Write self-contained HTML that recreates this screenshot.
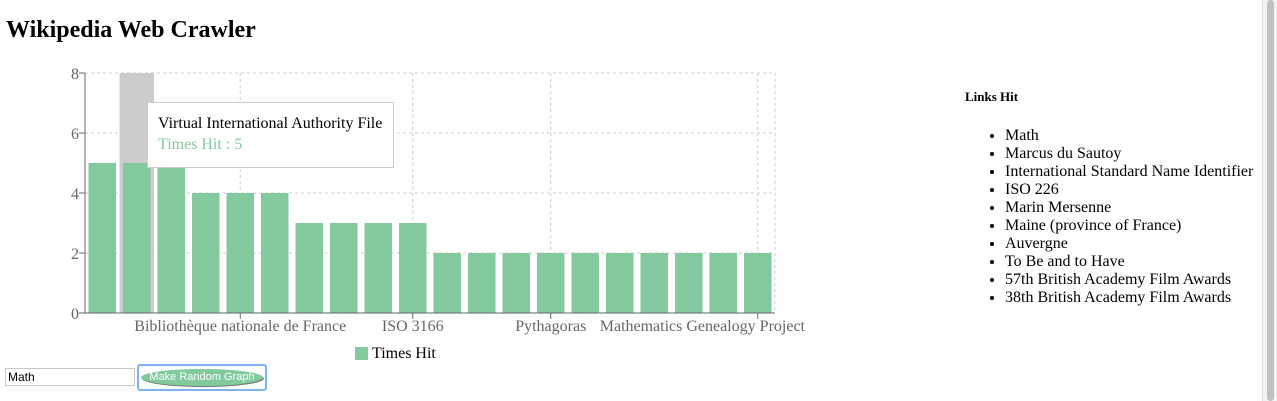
<!DOCTYPE html>
<html><head><meta charset="utf-8"><style>
body{margin:0;width:1277px;height:401px;overflow:hidden;background:#fff;font-family:"Liberation Serif",serif;position:relative}
h1{position:absolute;left:6px;top:17px;margin:0;font-size:24px;font-weight:bold}
#links{position:absolute;left:965px;top:89px}
#links h4{margin:0;font-size:13px}
#links ul{margin:22px 0 0 0;padding-left:40px;font-size:16px;line-height:18px}
#scroll{position:absolute;left:1262px;top:0;width:15px;height:401px;background:#f1f1f1;border-left:1px solid #e5e5e5}
#thumb{position:absolute;left:4px;top:0;width:7px;height:401px;background:#c1c1c1;border-radius:4px}
input{position:absolute;left:5px;top:368px;width:124px;height:14px;border:1px solid #c8c8c8;font:12px "Liberation Sans",sans-serif;padding:1px 2px}
#btnwrap{position:absolute;left:137px;top:364px;width:126px;height:23px;border:2px solid #7fb2f5;border-radius:3px}
#btn{position:absolute;left:2px;top:3px;width:122px;height:17px;border-radius:50%;background:#82c99c;box-shadow:1px 1px 0 #777;color:#fff;font:11px "Liberation Sans",sans-serif;text-align:center;line-height:17px;border:none;padding:0;white-space:nowrap}
</style></head><body>
<h1>Wikipedia Web Crawler</h1>
<svg id="chart" width="900" height="365" style="position:absolute;left:0;top:0"></svg>
<div id="links"><h4>Links Hit</h4>
<ul>
<li>Math</li>
<li>Marcus du Sautoy</li>
<li>International Standard Name Identifier</li>
<li>ISO 226</li>
<li>Marin Mersenne</li>
<li>Maine (province of France)</li>
<li>Auvergne</li>
<li>To Be and to Have</li>
<li>57th British Academy Film Awards</li>
<li>38th British Academy Film Awards</li>
</ul></div>
<input value="Math">
<div id="btnwrap"><button id="btn">Make Random Graph</button></div>
<div id="scroll"><div id="thumb"></div></div>
<script>
const categories=["Math","Virtual International Authority File","Marcus du Sautoy","Integrated Authority File","Bibliothèque nationale de France","Library of Congress Control Number","International Standard Name Identifier","ISO 226","Marin Mersenne","ISO 3166","Maine (province of France)","Auvergne","To Be and to Have","Pythagoras","57th British Academy Film Awards","38th British Academy Film Awards","Euclid","Number theory","Prime number","Mathematics Genealogy Project"];
const values=[5,5,5,4,4,4,3,3,3,3,2,2,2,2,2,2,2,2,2,2];
const yTicks=[0,2,4,6,8];
const shownTicks=[4,9,13,19];
const hovered=1;
const NS="http://www.w3.org/2000/svg",svg=document.getElementById('chart');
const L=85,R=775,T=73,B=313,yMax=8;
const step=(R-L)/categories.length;
const x=i=>L+step*i, y=v=>B-(B-T)*v/yMax;
function mk(t,a,p){const e=document.createElementNS(NS,t);for(const k in a)e.setAttribute(k,a[k]);(p||svg).appendChild(e);return e;}
yTicks.forEach(v=>{const g=mk('line',{x1:L,x2:R,y1:y(v),y2:y(v),stroke:'#ccc','stroke-dasharray':'3 3'});

});
shownTicks.forEach(i=>{const g=mk('line',{x1:x(i)+step/2,x2:x(i)+step/2,y1:T,y2:B,stroke:'#ccc','stroke-dasharray':'3 3'});

});
[L,R].forEach(px=>{const g=mk('line',{x1:px,x2:px,y1:T,y2:B,stroke:'#ccc','stroke-dasharray':'3 3'});

});
const cur=mk('rect',{x:x(hovered),y:T,width:step,height:B-T,fill:'#ccc'});


values.forEach((v,i)=>{const b=mk('rect',{x:x(i)+3.5,y:y(v),width:step-7,height:B-y(v),fill:'#82ca9d'});

});
const ya=mk('line',{x1:L,x2:L,y1:T,y2:B,stroke:'#666'});


const xa=mk('line',{x1:L,x2:R,y1:B,y2:B,stroke:'#666'});


yTicks.forEach(v=>{mk('line',{x1:L-6,x2:L,y1:y(v),y2:y(v),stroke:'#666'});
const t=mk('text',{x:L-6,y:y(v)+6,'text-anchor':'end','font-size':16,fill:'#666'});t.textContent=v;

});
shownTicks.forEach((i,k)=>{const cx=x(i)+step/2;mk('line',{x1:cx,x2:cx,y1:B,y2:B+6,stroke:'#666'});
const last=k===shownTicks.length-1;
const t=mk('text',{x:last?805:cx,y:B+18,'text-anchor':last?'end':'middle','font-size':16,fill:'#666'});t.textContent=categories[i];

});
const lg=mk('g',{});


mk('rect',{x:355,y:347,width:13,height:13,fill:'#82ca9d'},lg);
const lt=mk('text',{x:372,y:358,'font-size':16,fill:'#000'},lg);lt.textContent='Times Hit';
const tg=mk('g',{});


mk('rect',{x:147.5,y:102.5,width:246,height:65,fill:'#fff',stroke:'#ccc'},tg);
const t1=mk('text',{x:158,y:128,'font-size':16,fill:'#000'},tg);t1.textContent=categories[hovered];
const t2=mk('text',{x:158,y:149,'font-size':16,fill:'#82ca9d'},tg);t2.textContent='Times Hit : '+values[hovered];
</script>
</body></html>
